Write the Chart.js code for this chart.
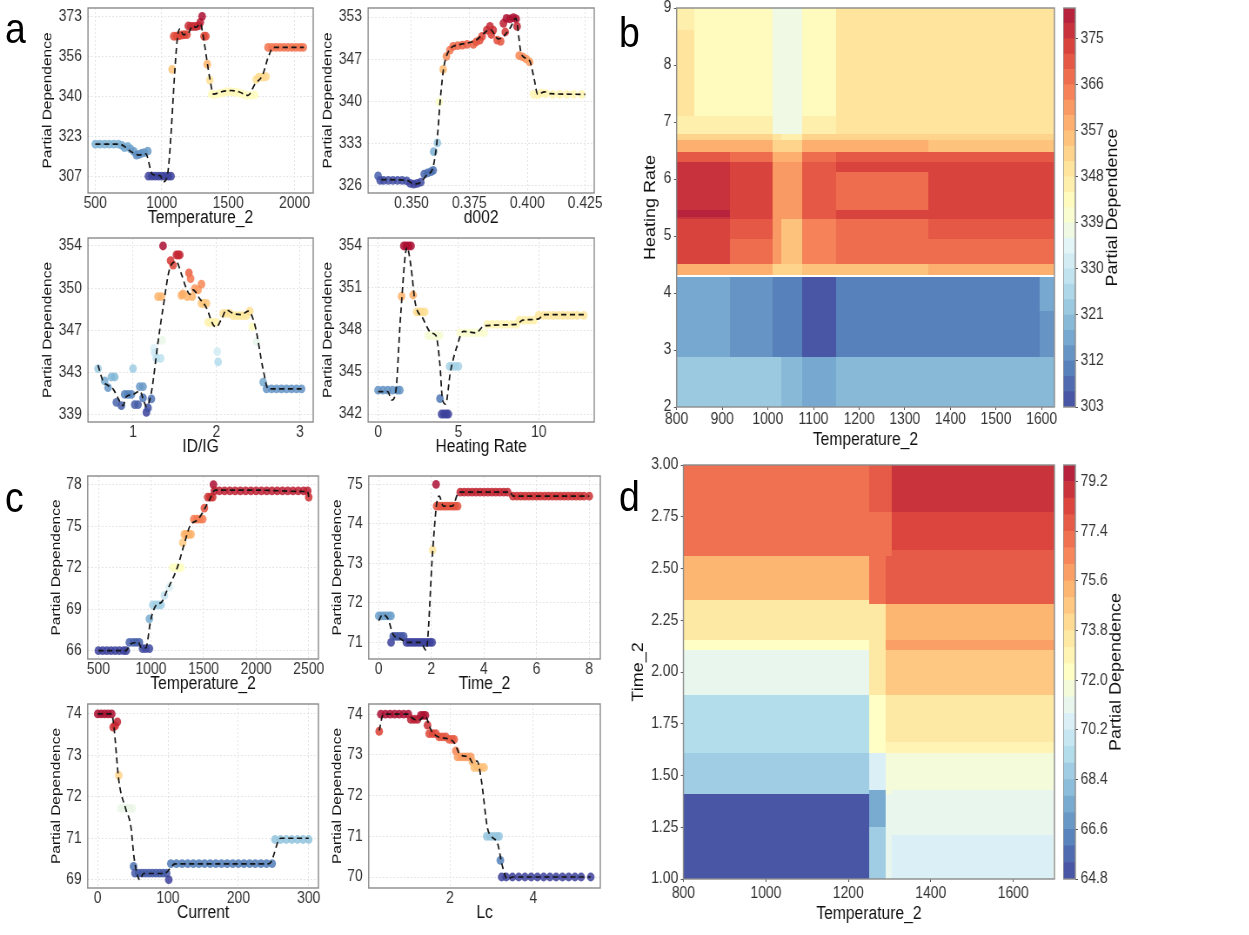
<!DOCTYPE html>
<html>
<head>
<meta charset="utf-8">
<title>Partial dependence</title>
<script src="https://cdn.jsdelivr.net/npm/chart.js@4.4.1/dist/chart.umd.min.js"></script>
<style>
  html, body { margin: 0; padding: 0; background: #fff; }
  body { width: 1249px; height: 935px; overflow: hidden; position: relative; }
  #wrap { position: absolute; left: 0; top: 0; height: 935px; transform-origin: 0 0; }
  #wrap canvas { position: absolute; }
  .tag { position: absolute; font: 43px "Liberation Sans", Arial, sans-serif; line-height: 1; color: #000; }
</style>
</head>
<body>
<div id="wrap"></div>
<script>
// Partial dependence figure: 8 small PDP panels + 2 heatmaps

// ---- a: Temperature_2 ----
const a1PtX = [500, 535, 570, 605, 640, 675, 700, 720, 745, 765, 790, 810, 830, 850, 870, 895, 900, 925, 950, 975, 1000, 1025, 1050, 1070, 1078, 1090, 1110, 1130, 1150, 1170, 1190, 1200, 1220, 1240, 1260, 1280, 1290, 1304, 1318, 1332, 1342, 1362, 1375, 1400, 1430, 1460, 1490, 1520, 1550, 1580, 1610, 1640, 1670, 1700, 1710, 1730, 1760, 1785, 1800, 1830, 1860, 1890, 1920, 1950, 1980, 2010, 2040, 2065];
const a1PtY = [320.5, 320.5, 320.5, 320.5, 320.5, 320.5, 320, 319, 319.5, 318.5, 317.5, 316, 316.3, 316.8, 317, 317.6, 307.3, 307.3, 307.3, 307.3, 307.3, 307.3, 307.3, 307.3, 351.2, 364.8, 364.8, 365, 365.3, 365.5, 365.5, 369, 368.8, 368.8, 368.8, 369.2, 370.5, 373, 364.8, 364.8, 353.3, 346.8, 341, 340.8, 341.2, 341.5, 342, 342, 341.8, 341.5, 341, 340.5, 340.5, 340.7, 347, 348, 348, 348.2, 360.2, 360.2, 360.2, 360.2, 360.2, 360.2, 360.2, 360.2, 360.2, 360.2];
const a1LineX = [500, 680, 720, 780, 830, 880, 930, 990, 1010, 1040, 1120, 1140, 1160, 1200, 1230, 1260, 1290, 1320, 1360, 1390, 1450, 1520, 1580, 1650, 1700, 1760, 1800, 1840, 2070];
const a1LineY = [320.5, 320.5, 319.5, 317, 316, 316.5, 308, 307.5, 305, 307, 365, 367.8, 365.5, 366, 369, 368.5, 370, 362, 348, 341, 342, 342.5, 342, 340.5, 345, 349, 356, 360.2, 360.2];
const a1XTicks = [500, 1000, 1500, 2000];
const a1YTicks = [307, 323.5, 340, 356.5, 373];
const a1YLabels = ['307', '323', '340', '356', '373'];

// ---- a: d002 ----
const a2PtX = [0.3356, 0.3365, 0.338, 0.340, 0.342, 0.344, 0.346, 0.348, 0.3495, 0.351, 0.3525, 0.354, 0.3555, 0.357, 0.3585, 0.3594, 0.3596, 0.3612, 0.362, 0.3637, 0.3651, 0.3666, 0.368, 0.370, 0.372, 0.374, 0.3767, 0.378, 0.3795, 0.3805, 0.3825, 0.3839, 0.3853, 0.3845, 0.387, 0.3885, 0.3897, 0.3905, 0.391, 0.3925, 0.394, 0.3952, 0.3956, 0.3965, 0.398, 0.3995, 0.401, 0.4027, 0.4045, 0.406, 0.408, 0.411, 0.414, 0.417, 0.420, 0.4235];
const a2PtY = [327.5, 326.8, 326.8, 326.8, 326.8, 326.8, 326.8, 326.7, 326.3, 326.2, 326.3, 326.5, 327.8, 328.0, 328.2, 328.4, 331.4, 332.8, 339.4, 344.6, 346.7, 347.7, 348.3, 348.4, 348.5, 348.6, 348.6, 349.0, 349.3, 349.9, 350.9, 351.5, 350.9, 350.2, 349.3, 349.1, 352.0, 350.6, 352.8, 352.7, 352.9, 352.7, 351.5, 346.8, 346.6, 346.3, 345.8, 340.6, 340.5, 340.8, 340.7, 340.6, 340.6, 340.6, 340.6, 340.6];
const a2LineX = [0.337, 0.348, 0.351, 0.354, 0.357, 0.359, 0.361, 0.3625, 0.364, 0.367, 0.370, 0.376, 0.378, 0.381, 0.384, 0.3875, 0.390, 0.393, 0.395, 0.3975, 0.401, 0.403, 0.4045, 0.4075, 0.410, 0.425];
const a2LineY = [326.9, 326.8, 326.2, 326.5, 327.8, 328.5, 333, 340, 345, 348, 348.5, 349, 349.3, 350.3, 351, 349.5, 350, 351.5, 352.8, 347, 346, 343, 340.6, 341, 340.7, 340.6];
const a2XTicks = [0.35, 0.375, 0.4, 0.425];
const a2XLabels = ['0.350', '0.375', '0.400', '0.425'];
const a2YTicks = [326, 332.75, 339.5, 346.25, 353];
const a2YLabels = ['326', '333', '340', '347', '353'];

// ---- a: ID/IG ----
const a3PtX = [0.58, 0.66, 0.70, 0.74, 0.78, 0.80, 0.86, 0.90, 0.94, 0.98, 1.00, 1.02, 1.06, 1.08, 1.12, 1.12, 1.16, 1.18, 1.22, 1.25, 1.26, 1.28, 1.30, 1.33, 1.34, 1.35, 1.36, 1.45, 1.48, 1.52, 1.54, 1.56, 1.58, 1.60, 1.65, 1.67, 1.69, 1.71, 1.74, 1.78, 1.82, 1.82, 1.85, 1.88, 1.90, 1.93, 1.97, 2.00, 2.01, 2.02, 2.08, 2.12, 2.16, 2.20, 2.24, 2.28, 2.32, 2.36, 2.40, 2.43, 2.48, 2.56, 2.60, 2.66, 2.72, 2.78, 2.84, 2.90, 2.96, 3.02];
const a3PtY = [343.1, 342.0, 341.4, 342.35, 342.35, 340.1, 339.8, 340.8, 340.8, 340.8, 343.1, 339.9, 339.9, 341.5, 341.5, 340.5, 339.2, 339.6, 340.4, 344.9, 344.5, 344.0, 349.5, 344.0, 349.5, 345.6, 354.0, 352.7, 352.3, 353.2, 353.2, 353.2, 349.6, 349.75, 349.5, 351.6, 351.1, 349.5, 350.2, 350.1, 350.6, 348.9, 348.9, 348.9, 347.2, 347.2, 347.2, 347.2, 344.6, 343.7, 348.0, 348.0, 348.0, 347.8, 347.8, 347.8, 347.8, 347.8, 348.2, 346.8, 345.5, 341.9, 341.3, 341.3, 341.3, 341.3, 341.3, 341.3, 341.3, 341.3];
const a3LineX = [0.58, 0.64, 0.70, 0.76, 0.84, 0.88, 0.92, 1.00, 1.08, 1.14, 1.16, 1.22, 1.30, 1.36, 1.44, 1.52, 1.58, 1.64, 1.68, 1.72, 1.80, 1.88, 1.96, 2.00, 2.06, 2.12, 2.20, 2.30, 2.38, 2.46, 2.56, 2.62, 3.02];
const a3LineY = [343.4, 342, 341.6, 341.3, 340.2, 339.8, 340.6, 340.8, 341.1, 340, 339.7, 341, 345.5, 348.5, 352, 352.6, 351.5, 350.2, 349.7, 350.1, 349.3, 348.5, 347, 346.8, 347.5, 348.3, 348, 347.9, 348.2, 347, 343, 341.3, 341.3];
const a3XTicks = [1, 2, 3];
const a3YTicks = [339, 342.75, 346.5, 350.25, 354];
const a3YLabels = ['339', '343', '347', '350', '354'];

// ---- a: Heating Rate ----
const a4PtX = [0, 0.3, 0.6, 0.9, 1.2, 1.35, 1.46, 1.6, 1.75, 1.9, 2.05, 2.18, 2.4, 2.55, 2.7, 2.9, 3.1, 3.3, 3.5, 3.7, 3.85, 3.85, 3.95, 4.1, 4.25, 4.37, 4.45, 4.6, 4.8, 5.0, 5.1, 5.4, 5.7, 6.0, 6.3, 6.6, 6.8, 7.1, 7.4, 7.7, 8.0, 8.3, 8.6, 8.8, 9.1, 9.4, 9.7, 10.0, 10.3, 10.6, 10.9, 11.2, 11.5, 11.8, 12.1, 12.4, 12.8];
const a4PtY = [343.7, 343.7, 343.7, 343.7, 343.7, 343.7, 350.4, 354, 354, 354, 354, 350.5, 349.3, 349.3, 349.3, 349.3, 347.6, 347.6, 347.6, 347.6, 347.6, 343.1, 342, 342, 342, 342, 345.4, 345.4, 345.4, 345.4, 347.8, 347.8, 347.8, 347.8, 347.8, 347.8, 348.4, 348.4, 348.4, 348.4, 348.4, 348.4, 348.4, 348.7, 348.7, 348.7, 348.7, 349.05, 349.05, 349.05, 349.05, 349.05, 349.05, 349.05, 349.05, 349.05, 349.05];
const a4LineX = [0, 0.6, 0.85, 1.1, 1.4, 1.8, 2.05, 2.3, 2.8, 3.3, 3.6, 3.85, 4.0, 4.2, 4.5, 4.9, 5.3, 6.1, 6.6, 8.6, 9.0, 10.0, 10.3, 12.8];
const a4LineY = [343.6, 343.6, 343.0, 343.6, 349, 353.9, 352.5, 350, 348.8, 347.8, 347.6, 345.5, 343.1, 342.7, 345, 346.8, 347.9, 347.8, 348.3, 348.4, 348.7, 348.8, 349.1, 349.1];
const a4XTicks = [0, 5, 10];
const a4YTicks = [342, 345, 348, 351, 354];

// ---- c: Temperature_2 ----
const c1PtX = [500, 540, 580, 620, 660, 700, 740, 765, 795, 830, 860, 890, 920, 950, 985, 985, 1017, 1045, 1070, 1096, 1128, 1175, 1207, 1235, 1260, 1286, 1302, 1318, 1340, 1360, 1381, 1407, 1435, 1465, 1492, 1508, 1540, 1565, 1587, 1594, 1603, 1650, 1700, 1750, 1800, 1850, 1900, 1950, 2000, 2050, 2100, 2150, 2200, 2250, 2300, 2350, 2400, 2450, 2490, 2500];
const c1PtY = [66, 66, 66, 66, 66, 66, 66, 66, 66.6, 66.6, 66.6, 66.6, 66.15, 66.15, 66.15, 68.3, 69.3, 69.3, 69.3, 69.3, 70.0, 70.6, 72, 72, 72, 72, 73.8, 74.4, 74.4, 74.4, 74.4, 75.5, 75.5, 75.5, 75.5, 76.3, 77.1, 77.1, 77.1, 78.0, 77.55, 77.55, 77.55, 77.55, 77.55, 77.55, 77.55, 77.55, 77.55, 77.55, 77.55, 77.55, 77.55, 77.55, 77.55, 77.55, 77.55, 77.55, 77.55, 77.1];
const c1LineX = [500, 760, 810, 880, 910, 950, 1000, 1050, 1100, 1150, 1250, 1320, 1370, 1450, 1550, 1610, 2000, 2450, 2490, 2500];
const c1LineY = [66, 66, 66.5, 66.6, 66.2, 66.2, 68.3, 69.3, 69.5, 70.3, 72, 73.8, 75, 75.5, 76.8, 77.6, 77.6, 77.5, 77.5, 77.1];
const c1XTicks = [500, 1000, 1500, 2000, 2500];
const c1YTicks = [66, 69, 72, 75, 78];

// ---- c: Time_2 ----
const c2PtX = [0, 0.1, 0.2, 0.3, 0.4, 0.47, 0.47, 0.55, 0.65, 0.75, 0.85, 0.95, 1.05, 1.15, 1.25, 1.35, 1.45, 1.55, 1.65, 1.75, 1.85, 1.95, 2.03, 2.05, 2.18, 2.2, 2.3, 2.4, 2.5, 2.6, 2.7, 2.8, 2.9, 3.0, 3.1, 3.25, 3.4, 3.55, 3.7, 3.85, 4.0, 4.15, 4.3, 4.45, 4.6, 4.75, 4.9, 5.1, 5.25, 5.4, 5.55, 5.7, 5.85, 6.0, 6.15, 6.3, 6.45, 6.6, 6.75, 6.9, 7.05, 7.2, 7.35, 7.5, 7.65, 7.8, 8.0];
const c2PtY = [71.67, 71.67, 71.67, 71.67, 71.67, 71.67, 71.0, 71.15, 71.15, 71.15, 71.15, 71.15, 71.0, 71.0, 71.0, 71.0, 71.0, 71.0, 71.0, 71.0, 71.0, 71.0, 71.0, 73.34, 75.0, 74.45, 74.45, 74.45, 74.45, 74.45, 74.45, 74.45, 74.45, 74.45, 74.8, 74.8, 74.8, 74.8, 74.8, 74.8, 74.8, 74.8, 74.8, 74.8, 74.8, 74.8, 74.8, 74.7, 74.7, 74.7, 74.7, 74.7, 74.7, 74.7, 74.7, 74.7, 74.7, 74.7, 74.7, 74.7, 74.7, 74.7, 74.7, 74.7, 74.7, 74.7, 74.7];
const c2LineX = [0, 0.15, 0.35, 0.55, 0.8, 1.1, 1.6, 1.8, 2.05, 2.2, 2.3, 2.45, 2.8, 3.05, 5.0, 5.1, 8.0];
const c2LineY = [71.55, 71.7, 71.6, 71.2, 71.1, 71.0, 71.0, 70.8, 73.3, 74.5, 74.7, 74.45, 74.45, 74.8, 74.8, 74.7, 74.7];
const c2XTicks = [0, 2, 4, 6, 8];
const c2YTicks = [71, 72, 73, 74, 75];

// ---- c: Current ----
const c3PtX = [0, 5, 10, 15, 20, 22, 25, 28, 30, 33, 37, 41, 45, 49, 51, 53, 58, 63, 68, 73, 78, 83, 88, 93, 98, 101, 104, 112, 120, 128, 136, 144, 152, 160, 168, 176, 184, 192, 200, 208, 216, 224, 232, 240, 248, 252, 260, 268, 276, 284, 292, 300];
const c3PtY = [74, 74, 74, 74, 74, 73.68, 73.72, 73.81, 72.52, 71.72, 71.72, 71.72, 71.72, 71.72, 70.32, 70.16, 70.16, 70.16, 70.16, 70.16, 70.16, 70.16, 70.16, 70.16, 70.16, 70.0, 70.39, 70.39, 70.39, 70.39, 70.39, 70.39, 70.39, 70.39, 70.39, 70.39, 70.39, 70.39, 70.39, 70.39, 70.39, 70.39, 70.39, 70.39, 70.39, 70.97, 70.97, 70.97, 70.97, 70.97, 70.97, 70.97];
const c3LineX = [0, 20, 23, 30, 40, 47, 52, 60, 65, 95, 110, 240, 245, 260, 300];
const c3LineY = [74, 74, 73.7, 72.4, 71.7, 71.3, 70.5, 70.0, 70.15, 70.15, 70.38, 70.38, 70.4, 71.0, 71.0];
const c3XTicks = [0, 100, 200, 300];
const c3YTicks = [70, 71, 72, 73, 74];
const c3YLabels = ['69', '71', '72', '73', '74'];

// ---- c: Lc ----
const c4PtX = [0.30, 0.34, 0.45, 0.56, 0.67, 0.78, 0.89, 1.0, 1.06, 1.14, 1.22, 1.30, 1.36, 1.41, 1.46, 1.50, 1.58, 1.66, 1.74, 1.82, 1.90, 1.98, 2.05, 2.10, 2.14, 2.18, 2.26, 2.34, 2.42, 2.50, 2.54, 2.58, 2.66, 2.74, 2.82, 2.88, 2.96, 3.04, 3.12, 3.18, 3.21, 3.24, 3.35, 3.5, 3.65, 3.8, 3.95, 4.1, 4.25, 4.4, 4.55, 4.7, 4.85, 5.0, 5.15, 5.38];
const c4PtY = [73.58, 74, 74, 74, 74, 74, 74, 74, 73.87, 73.87, 73.87, 73.97, 73.97, 73.97, 73.73, 73.52, 73.52, 73.52, 73.44, 73.44, 73.44, 73.38, 73.38, 73.38, 73.1, 72.95, 72.95, 72.95, 72.95, 72.95, 72.83, 72.69, 72.69, 72.69, 72.69, 71.0, 71.0, 71.0, 71.0, 71.0, 70.41, 70, 70, 70, 70, 70, 70, 70, 70, 70, 70, 70, 70, 70, 70, 70];
const c4LineX = [0.30, 0.4, 1.0, 1.1, 1.25, 1.4, 1.55, 1.7, 2.0, 2.1, 2.25, 2.45, 2.55, 2.65, 2.75, 2.9, 3.0, 3.15, 3.25, 3.38, 3.5, 5.38];
const c4LineY = [73.6, 74.0, 74.0, 73.9, 73.85, 73.95, 73.6, 73.45, 73.38, 73.3, 73.0, 72.95, 72.8, 72.85, 72.4, 71.2, 71.0, 70.8, 70.3, 69.95, 70.0, 70.0];
const c4XTicks = [2, 4];
const c4YTicks = [70, 71, 72, 73, 74];

// ---- b: Temperature_2 x Heating Rate ----
const bXBreaks = [800, 840, 918, 1011, 1030, 1077, 1150, 1352, 1597, 1628];
const bYBreaks = [2, 2.88, 3.70, 4.29, 4.33, 4.52, 4.96, 5.31, 5.34, 5.46, 6.13, 6.30, 6.48, 6.69, 6.80, 7.12, 8.62, 9];
const bValues = [
  [323, 323, 323, 323, 318, 315, 318, 318, 318],
  [315, 315, 312, 309, 309, 305, 309, 309, 313],
  [315, 315, 312, 309, 309, 305, 309, 309, 315],
  [null, null, null, null, null, null, null, null, null],
  [358, 358, 358, 352, 352, 355, 356, 358, 358],
  [372, 372, 366, 360, 356, 363, 366, 366, 366],
  [372, 372, 369, 360, 356, 363, 366, 369, 369],
  [376, 376, 372, 362, 362, 369, 372, 372, 372],
  [380, 378, 372, 362, 362, 369, 372, 372, 372],
  [376, 376, 372, 362, 362, 369, 367, 372, 372],
  [376, 376, 372, 362, 362, 370, 374, 374, 374],
  [370, 370, 366, 357, 357, 368, 369, 369, 369],
  [357, 357, 357, 352, 352, 357, 357, 356, 356],
  [352, 352, 352, 350, 347, 352, 352, 352, 352],
  [346, 346, 346, 337, 337, 346, 349, 349, 349],
  [349, 343, 343, 337, 337, 344, 349, 349, 349],
  [345, 343, 343, 337, 336, 344, 349, 349, 349]
];
const bXTicks = [800, 900, 1000, 1100, 1200, 1300, 1400, 1500, 1600];
const bYTicks = [2, 3, 4, 5, 6, 7, 8, 9];
const bBarTicks = [303, 312, 321, 330, 339, 348, 357, 366, 375];

// ---- d: Temperature_2 x Time_2 ----
const dXBreaks = [800, 1252, 1292, 1306, 1697, 1700];
const dYBreaks = [1.0, 1.214, 1.254, 1.415, 1.43, 1.61, 1.665, 1.89, 2.107, 2.155, 2.33, 2.35, 2.565, 2.59, 2.775, 3.0];
const dValues = [
  [65.2, 68.4, 71.0, 70.4, 71.0],
  [65.2, 68.4, 71.0, 71.0, 71.0],
  [65.2, 67.6, 71.0, 71.0, 71.0],
  [68.7, 67.6, 71.6, 71.0, 71.0],
  [68.7, 70.6, 71.6, 71.6, 71.6],
  [69.2, 72.2, 72.8, 73.0, 72.8],
  [69.2, 72.4, 73.4, 73.4, 73.4],
  [71.2, 73.2, 74.6, 74.6, 74.6],
  [72.2, 73.2, 75.8, 75.8, 75.8],
  [73.4, 73.4, 75.0, 75.0, 75.0],
  [73.4, 76.8, 77.6, 77.6, 77.6],
  [75.2, 76.8, 77.6, 77.6, 77.6],
  [76.8, 76.8, 76.8, 77.6, 77.6],
  [76.8, 76.8, 76.8, 78.4, 78.4],
  [76.8, 77.6, 77.6, 79.0, 79.0]
];
const dXTicks = [800, 1000, 1200, 1400, 1600];
const dYTicks = [1.0, 1.25, 1.5, 1.75, 2.0, 2.25, 2.5, 2.75, 3.0];
const dBarTicks = [64.8, 66.6, 68.4, 70.2, 72.0, 73.8, 75.6, 77.4, 79.2];

const SQ = 0.87;   // the whole figure is squeezed horizontally
const FONT = '"Liberation Sans", Arial, sans-serif';
const RDYLBU_R = ['#313695', '#4575b4', '#74add1', '#abd9e9', '#e0f3f8', '#ffffbf', '#fee090', '#fdae61', '#f46d43', '#d73027', '#a50026'];

const wrap = document.getElementById('wrap');
wrap.style.width = (1249 / SQ) + 'px';
wrap.style.transform = 'scaleX(' + SQ + ')';

function hexRgb(h) {
  return [1, 3, 5].map(i => parseInt(h.slice(i, i + 2), 16));
}

function ramp(t, fade, alpha) {
  t = Math.max(0, Math.min(1, t));
  const p = t * 10, i = Math.min(9, Math.floor(p)), f = p - i;
  const c0 = hexRgb(RDYLBU_R[i]), c1 = hexRgb(RDYLBU_R[i + 1]);
  const rgb = c0.map((v, k) => v + (c1[k] - v) * f).map(v => Math.round(v + (255 - v) * fade));
  return 'rgba(' + rgb.join(',') + ',' + alpha + ')';
}

function levelColor(v, lo, step, n) {
  const idx = Math.min(n - 1, Math.max(0, Math.floor((v - lo) / step + 1e-9)));
  return ramp((idx + 0.5) / n, 0.1, 1);
}

function addCanvas(left, top, w, h) {
  const c = document.createElement('canvas');
  c.width = Math.round(w);
  c.height = Math.round(h);
  c.style.left = left + 'px';
  c.style.top = top + 'px';
  wrap.appendChild(c);
  return c;
}

function addTag(txt, x, y) {
  const d = document.createElement('div');
  d.className = 'tag';
  d.textContent = txt;
  d.style.left = (x / SQ) + 'px';
  d.style.top = y + 'px';
  wrap.appendChild(d);
}

function axis(o) {
  return {
    type: 'linear',
    position: o.pos,
    min: o.min,
    max: o.max,
    afterBuildTicks: s => { s.ticks = o.ticks.map(v => ({ value: v })); },
    afterFit: s => {
      if (o.pos === 'bottom') s.height = o.size; else s.width = o.size;
      s.paddingLeft = 0; s.paddingRight = 0; s.paddingTop = 0; s.paddingBottom = 0;
    },
    ticks: {
      autoSkip: false, maxRotation: 0, padding: o.tickPad,
      color: '#333', font: { family: FONT, size: o.tickSize },
      callback: (v, i) => o.labels ? o.labels[i] : String(v)
    },
    grid: o.grid
      ? { color: '#e4e4e4', lineWidth: 1, drawTicks: false }
      : { drawOnChartArea: false, drawTicks: true, tickLength: 3, color: '#555' },
    border: { display: false, dash: o.grid ? [2, 2] : [] },
    title: { display: true, text: o.title, color: '#111', font: { family: FONT, size: o.titleSize }, padding: { top: 2, bottom: 2 } }
  };
}

const framePlugin = {
  id: 'frame',
  afterDraw(c) {
    const a = c.chartArea, ctx = c.ctx;
    ctx.save();
    ctx.strokeStyle = '#8a8a8a';
    ctx.lineWidth = 1.4;
    ctx.strokeRect(a.left, a.top, a.right - a.left, a.bottom - a.top);
    ctx.restore();
  }
};

// one small partial dependence plot: coloured points + dashed smooth line
function pdPanel(box, o) {
  const yw = o.titleGap / SQ + 11, xh = 38, pt = 12, pr = 24;
  const cv = addCanvas(box.x / SQ - yw, box.y - pt, yw + box.w / SQ + pr, pt + box.h + xh);
  const lo = Math.min(...o.ptY), hi = Math.max(...o.ptY);
  new Chart(cv, {
    type: 'scatter',
    data: {
      datasets: [
        {
          type: 'line', showLine: true,
          data: o.lineX.map((x, i) => ({ x: x, y: o.lineY[i] })),
          borderColor: '#151515', borderWidth: 1.7, borderDash: [6, 4],
          pointRadius: 0, fill: false, cubicInterpolationMode: 'monotone', order: 0
        },
        {
          data: o.ptX.map((x, i) => ({ x: x, y: o.ptY[i] })),
          pointRadius: 4.4, pointBorderWidth: 0, pointBorderColor: 'rgba(0,0,0,0)',
          pointBackgroundColor: o.ptY.map(v => ramp((v - lo) / (hi - lo), 0.06, 0.85)),
          order: 1
        }
      ]
    },
    options: {
      responsive: false, animation: false, events: [],
      layout: { padding: { left: 0, top: pt, right: pr, bottom: 0 } },
      plugins: { legend: { display: false }, tooltip: { enabled: false } },
      scales: {
        x: axis({ pos: 'bottom', min: o.xMin, max: o.xMax, ticks: o.xTicks, labels: o.xLabels, size: xh, tickPad: 1, tickSize: 16, title: o.xTitle, titleSize: 18, grid: true }),
        y: axis({ pos: 'left', min: o.yMin, max: o.yMax, ticks: o.yTicks, labels: o.yLabels, size: yw, tickPad: 7, tickSize: 16, title: 'Partial Dependence', titleSize: 15.5, grid: true })
      }
    },
    plugins: [framePlugin]
  });
}

// heatmap drawn cell by cell through the chart scales
function heatPanel(box, o) {
  const yw = o.titleGap / SQ + 12.8, pt = 12, pr = 10;
  const cv = addCanvas(box.x / SQ - yw, box.y - pt, yw + box.w / SQ + pr, pt + box.h + o.xh);
  const cells = {
    id: 'cells',
    beforeDatasetsDraw(c) {
      const sx = c.scales.x, sy = c.scales.y, ctx = c.ctx;
      ctx.save();
      o.values.forEach((row, r) => row.forEach((v, k) => {
        const x0 = Math.floor(sx.getPixelForValue(o.xb[k])), x1 = Math.ceil(sx.getPixelForValue(o.xb[k + 1]));
        const y0 = Math.ceil(sy.getPixelForValue(o.yb[r])), y1 = Math.floor(sy.getPixelForValue(o.yb[r + 1]));
        ctx.fillStyle = v === null ? '#ffffff' : levelColor(v, o.lo, o.step, o.n);
        ctx.fillRect(x0, y1, x1 - x0, y0 - y1);
      }));
      ctx.restore();
    }
  };
  new Chart(cv, {
    type: 'scatter',
    data: { datasets: [{ data: [] }] },
    options: {
      responsive: false, animation: false, events: [],
      layout: { padding: { left: 0, top: pt, right: pr, bottom: 0 } },
      plugins: { legend: { display: false }, tooltip: { enabled: false } },
      scales: {
        x: axis({ pos: 'bottom', min: o.xMin, max: o.xMax, ticks: o.xTicks, size: o.xh, tickPad: o.xPad, tickSize: 16, title: 'Temperature_2', titleSize: 18, grid: false }),
        y: axis({ pos: 'left', min: o.yMin, max: o.yMax, ticks: o.yTicks, labels: o.yLabels, size: yw, tickPad: 3, tickSize: 16, title: o.yTitle, titleSize: 18, grid: false })
      }
    },
    plugins: [cells, framePlugin]
  });
  // stepped colour bar
  const cbx = 1063 / SQ, cbw = 12 / SQ, cbr = 90, pb = 14;
  const bar = addCanvas(cbx, box.y - pt, cbw + cbr, pt + box.h + pb);
  const bands = [];
  for (let i = 0; i < o.n; i++) {
    const v0 = o.lo + i * o.step;
    bands.push({
      data: [[v0, v0 + o.step]], backgroundColor: levelColor(v0, o.lo, o.step, o.n),
      borderWidth: 0, barPercentage: 1, categoryPercentage: 1, grouped: false
    });
  }
  const barTitle = {
    id: 'barTitle',
    afterDraw(c) {
      const a = c.chartArea, ctx = c.ctx;
      ctx.save();
      ctx.translate(o.barTitleX / SQ - cbx, (a.top + a.bottom) / 2);
      ctx.rotate(-Math.PI / 2);
      ctx.font = '18px ' + FONT;
      ctx.fillStyle = '#111';
      ctx.textAlign = 'center';
      ctx.textBaseline = 'middle';
      ctx.fillText('Partial Dependence', 0, 0);
      ctx.restore();
    }
  };
  new Chart(bar, {
    type: 'bar',
    data: { labels: [''], datasets: bands },
    options: {
      responsive: false, animation: false, events: [],
      layout: { padding: { left: 0, top: pt, right: 0, bottom: pb } },
      plugins: { legend: { display: false }, tooltip: { enabled: false } },
      scales: {
        x: { display: false },
        y: {
          type: 'linear', position: 'right', min: o.lo, max: o.lo + o.n * o.step,
          afterBuildTicks: s => { s.ticks = o.barTicks.map(v => ({ value: v })); },
          afterFit: s => { s.width = cbr; s.paddingTop = 0; s.paddingBottom = 0; },
          ticks: { padding: 3, color: '#333', font: { family: FONT, size: 16 }, callback: v => o.barFmt(v) },
          grid: { drawOnChartArea: false, drawTicks: true, tickLength: 3, color: '#555' },
          border: { display: false }
        }
      }
    },
    plugins: [framePlugin, barTitle]
  });
}

pdPanel({ x: 88, y: 8, w: 225, h: 185 }, { titleGap: 41, ptX: a1PtX, ptY: a1PtY, lineX: a1LineX, lineY: a1LineY, xMin: 445, xMax: 2140, yMin: 300.4, yMax: 376.4, xTicks: a1XTicks, yTicks: a1YTicks, yLabels: a1YLabels, xTitle: 'Temperature_2' });
pdPanel({ x: 368, y: 8, w: 226, h: 185 }, { titleGap: 41, ptX: a2PtX, ptY: a2PtY, lineX: a2LineX, lineY: a2LineY, xMin: 0.3313, xMax: 0.4289, yMin: 324.76, yMax: 354.45, xTicks: a2XTicks, xLabels: a2XLabels, yTicks: a2YTicks, yLabels: a2YLabels, xTitle: 'd002' });
pdPanel({ x: 88, y: 238, w: 225, h: 184 }, { titleGap: 41, ptX: a3PtX, ptY: a3PtY, lineX: a3LineX, lineY: a3LineY, xMin: 0.46, xMax: 3.16, yMin: 338.35, yMax: 354.71, xTicks: a3XTicks, yTicks: a3YTicks, yLabels: a3YLabels, xTitle: 'ID/IG' });
pdPanel({ x: 368, y: 238, w: 226, h: 184 }, { titleGap: 41, ptX: a4PtX, ptY: a4PtY, lineX: a4LineX, lineY: a4LineY, xMin: -0.62, xMax: 13.45, yMin: 341.43, yMax: 354.57, xTicks: a4XTicks, yTicks: a4YTicks, xTitle: 'Heating Rate' });
pdPanel({ x: 88, y: 476, w: 231, h: 183 }, { titleGap: 32, ptX: c1PtX, ptY: c1PtY, lineX: c1LineX, lineY: c1LineY, xMin: 398.6, xMax: 2592, yMin: 65.4, yMax: 78.62, xTicks: c1XTicks, yTicks: c1YTicks, xTitle: 'Temperature_2' });
pdPanel({ x: 369, y: 476, w: 232, h: 183 }, { titleGap: 32, ptX: c2PtX, ptY: c2PtY, lineX: c2LineX, lineY: c2LineY, xMin: -0.38, xMax: 8.42, yMin: 70.58, yMax: 75.21, xTicks: c2XTicks, yTicks: c2YTicks, xTitle: 'Time_2' });
pdPanel({ x: 88, y: 704, w: 231, h: 184 }, { titleGap: 32, ptX: c3PtX, ptY: c3PtY, lineX: c3LineX, lineY: c3LineY, xMin: -14.2, xMax: 313.8, yMin: 69.8, yMax: 74.24, xTicks: c3XTicks, yTicks: c3YTicks, yLabels: c3YLabels, xTitle: 'Current' });
pdPanel({ x: 369, y: 704, w: 232, h: 184 }, { titleGap: 32, ptX: c4PtX, ptY: c4PtY, lineX: c4LineX, lineY: c4LineY, xMin: 0.048, xMax: 5.61, yMin: 69.73, yMax: 74.25, xTicks: c4XTicks, yTicks: c4YTicks, xTitle: 'Lc' });

heatPanel({ x: 677, y: 8, w: 378, h: 399 }, {
  titleGap: 26, xh: 46, xPad: 0, xb: bXBreaks, yb: bYBreaks, values: bValues,
  lo: 303, step: 3, n: 26, xMin: 800, xMax: 1628, yMin: 2, yMax: 9,
  xTicks: bXTicks, yTicks: bYTicks, yTitle: 'Heating Rate',
  barTicks: bBarTicks, barFmt: v => String(v), barTitleX: 1113
});
heatPanel({ x: 683, y: 465, w: 371, h: 414 }, {
  titleGap: 45, xh: 48, xPad: 2, xb: dXBreaks, yb: dYBreaks, values: dValues,
  lo: 64.8, step: 0.6, n: 25, xMin: 800, xMax: 1700, yMin: 1, yMax: 3,
  xTicks: dXTicks, yTicks: dYTicks, yLabels: dYTicks.map(v => v.toFixed(2)), yTitle: 'Time_2',
  barTicks: dBarTicks, barFmt: v => v.toFixed(1), barTitleX: 1116
});

addTag('a', 5, 7);
addTag('b', 619, 11);
addTag('c', 5, 476);
addTag('d', 619, 475);
</script>
</body>
</html>
